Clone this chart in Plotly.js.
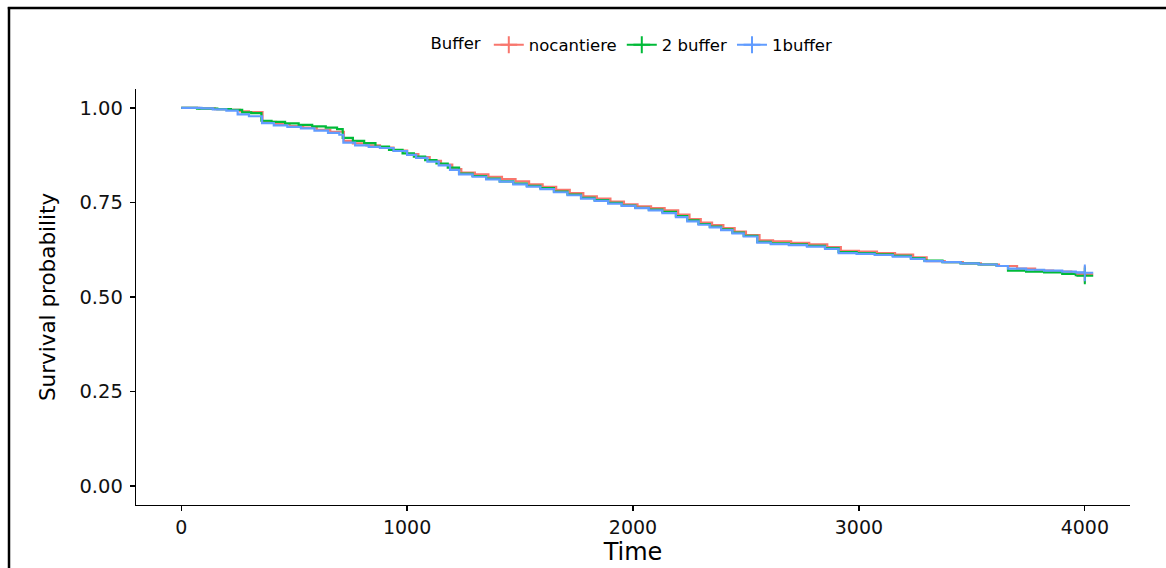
<!DOCTYPE html>
<html>
<head>
<meta charset="utf-8">
<script src="https://cdn.plot.ly/plotly-3.0.1.min.js"></script>
<style>
  html, body { margin: 0; padding: 0; background: #fff; }
  #chart { width: 1166px; height: 568px; }
</style>
</head>
<body>
<div id="chart"></div>
<script>
// Kaplan-Meier survival estimates by buffer group (step points)
const timeNocantiere = [0, 80, 150, 210, 260, 300, 360, 420, 480, 540, 600, 660, 720, 760, 820, 880, 940, 1000, 1050, 1100, 1150, 1200, 1240, 1300, 1360, 1420, 1480, 1540, 1600, 1660, 1720, 1780, 1840, 1900, 1960, 2020, 2080, 2140, 2200, 2250, 2300, 2350, 2400, 2450, 2500, 2560, 2620, 2700, 2780, 2860, 2920, 3000, 3080, 3160, 3240, 3300, 3380, 3460, 3540, 3620, 3700, 3780, 3860, 3940, 4000];
const survNocantiere = [1.000, 0.999, 0.997, 0.995, 0.991, 0.989, 0.963, 0.957, 0.952, 0.948, 0.942, 0.937, 0.913, 0.906, 0.901, 0.895, 0.887, 0.878, 0.870, 0.860, 0.850, 0.838, 0.829, 0.824, 0.818, 0.812, 0.806, 0.798, 0.791, 0.783, 0.775, 0.766, 0.760, 0.752, 0.745, 0.740, 0.735, 0.729, 0.718, 0.706, 0.697, 0.690, 0.682, 0.673, 0.664, 0.650, 0.647, 0.643, 0.639, 0.632, 0.622, 0.620, 0.616, 0.612, 0.605, 0.595, 0.592, 0.589, 0.586, 0.582, 0.575, 0.570, 0.567, 0.562, 0.560];

const time2Buffer = [0, 70, 160, 220, 270, 310, 355, 400, 460, 520, 580, 640, 690, 715, 760, 810, 860, 920, 980, 1030, 1080, 1130, 1180, 1230, 1290, 1350, 1410, 1470, 1530, 1590, 1650, 1710, 1770, 1830, 1890, 1950, 2010, 2070, 2130, 2190, 2240, 2290, 2340, 2390, 2440, 2490, 2550, 2610, 2690, 2770, 2850, 2910, 2990, 3070, 3150, 3230, 3290, 3370, 3450, 3530, 3610, 3660, 3740, 3820, 3900, 3960, 4000];
const surv2Buffer = [1.000, 0.998, 0.997, 0.995, 0.988, 0.986, 0.966, 0.963, 0.959, 0.955, 0.951, 0.948, 0.944, 0.921, 0.913, 0.907, 0.898, 0.889, 0.880, 0.871, 0.862, 0.853, 0.842, 0.826, 0.820, 0.813, 0.806, 0.800, 0.794, 0.788, 0.779, 0.771, 0.762, 0.756, 0.749, 0.742, 0.736, 0.731, 0.725, 0.714, 0.703, 0.693, 0.686, 0.679, 0.670, 0.662, 0.646, 0.642, 0.639, 0.635, 0.629, 0.619, 0.616, 0.613, 0.609, 0.603, 0.596, 0.592, 0.589, 0.586, 0.582, 0.570, 0.567, 0.565, 0.561, 0.558, 0.556];

const time1Buffer = [0, 90, 140, 200, 250, 300, 358, 410, 470, 530, 590, 650, 700, 718, 770, 830, 880, 940, 1000, 1040, 1090, 1140, 1190, 1230, 1290, 1350, 1410, 1470, 1530, 1590, 1650, 1710, 1770, 1830, 1890, 1950, 2010, 2070, 2130, 2190, 2240, 2290, 2340, 2390, 2440, 2490, 2550, 2610, 2690, 2770, 2850, 2910, 2990, 3070, 3150, 3230, 3290, 3370, 3450, 3530, 3610, 3660, 3740, 3820, 3900, 3960, 4000];
const surv1Buffer = [1.000, 0.999, 0.996, 0.993, 0.983, 0.978, 0.960, 0.954, 0.950, 0.946, 0.940, 0.934, 0.929, 0.908, 0.901, 0.897, 0.894, 0.886, 0.876, 0.868, 0.858, 0.848, 0.836, 0.824, 0.818, 0.811, 0.805, 0.798, 0.792, 0.785, 0.777, 0.769, 0.760, 0.754, 0.747, 0.741, 0.735, 0.729, 0.722, 0.711, 0.700, 0.691, 0.684, 0.677, 0.668, 0.660, 0.644, 0.640, 0.637, 0.633, 0.627, 0.616, 0.614, 0.611, 0.607, 0.601, 0.595, 0.592, 0.589, 0.586, 0.582, 0.575, 0.572, 0.570, 0.567, 0.565, 0.564];

const groupNames = ["nocantiere", "2 buffer", "1buffer"];
const xTicks = [0, 1000, 2000, 3000, 4000];
const yTicks = [0, 0.25, 0.5, 0.75, 1];
const yTickLabels = ["0.00", "0.25", "0.50", "0.75", "1.00"];

const colors = ["#F8766D", "#00BA38", "#619CFF"];
const series = [
  { t: timeNocantiere, s: survNocantiere },
  { t: time2Buffer, s: surv2Buffer },
  { t: time1Buffer, s: surv1Buffer }
];

const FONT = "DejaVu Sans";
const traces = [];

// step curves
series.forEach((d, i) => {
  traces.push({
    type: "scatter", mode: "lines",
    x: d.t, y: d.s,
    line: { shape: "hv", color: colors[i], width: 2.2 },
    showlegend: false, hoverinfo: "skip"
  });
});

// censoring marks at the end of follow-up (also carry the legend entries)
series.forEach((d, i) => {
  const n = d.t.length - 1;
  traces.push({
    type: "scatter", mode: "lines+markers",
    name: groupNames[i],
    x: [d.t[n]], y: [d.s[n]],
    line: { color: colors[i], width: 2.2 },
    marker: { symbol: "cross-thin", size: 12, color: colors[i], line: { color: colors[i], width: 2 } },
    hoverinfo: "skip"
  });
});

// outer frame (left and top edges)
const PL = 136, PW = 994, PT = 89, PH = 416;
const px = v => (v - PL) / PW;
const py = v => (PT + PH - v) / PH;

const layout = {
  width: 1166, height: 568,
  margin: { l: PL, r: 1166 - PL - PW, t: PT, b: 568 - PT - PH },
  paper_bgcolor: "#fff", plot_bgcolor: "#fff",
  font: { family: FONT, color: "#000" },
  showlegend: true,
  legend: {
    orientation: "h", x: 0.5, xanchor: "center", y: py(45), yanchor: "middle",
    font: { family: FONT, size: 16.5, color: "#000" },
    title: { text: "Buffer", side: "left", font: { family: FONT, size: 16.5, color: "#000" } },
    itemwidth: 30, tracegroupgap: 0
  },
  xaxis: {
    range: [-200, 4200], tickvals: xTicks, ticktext: xTicks.map(String),
    showline: true, linecolor: "#000", linewidth: 1.3, mirror: false,
    ticks: "outside", ticklen: 5, tickwidth: 1.3, tickcolor: "#000",
    showgrid: false, zeroline: false,
    tickfont: { family: FONT, size: 19, color: "#111" },
    title: { text: "Time", font: { family: FONT, size: 24, color: "#000" }, standoff: 6 },
    automargin: false
  },
  yaxis: {
    range: [-0.05, 1.05], tickvals: yTicks, ticktext: yTickLabels,
    showline: true, linecolor: "#000", linewidth: 1.3,
    ticks: "outside", ticklen: 5, tickwidth: 1.3, tickcolor: "#000",
    showgrid: false, zeroline: false,
    tickfont: { family: FONT, size: 19.5, color: "#111" },
    ticklabelstandoff: 3,
    title: { text: "Survival probability", font: { family: FONT, size: 21.5, color: "#000" }, standoff: 18 },
    automargin: false
  },
  shapes: [
    { type: "line", xref: "paper", yref: "paper", x0: px(9), x1: px(9), y0: py(7), y1: py(580), line: { color: "#000", width: 2.5 } },
    { type: "line", xref: "paper", yref: "paper", x0: px(7.8), x1: px(1180), y0: py(8), y1: py(8), line: { color: "#000", width: 2.5 } }
  ]
};

Plotly.newPlot("chart", traces, layout, { displayModeBar: false, staticPlot: true });
</script>
</body>
</html>
